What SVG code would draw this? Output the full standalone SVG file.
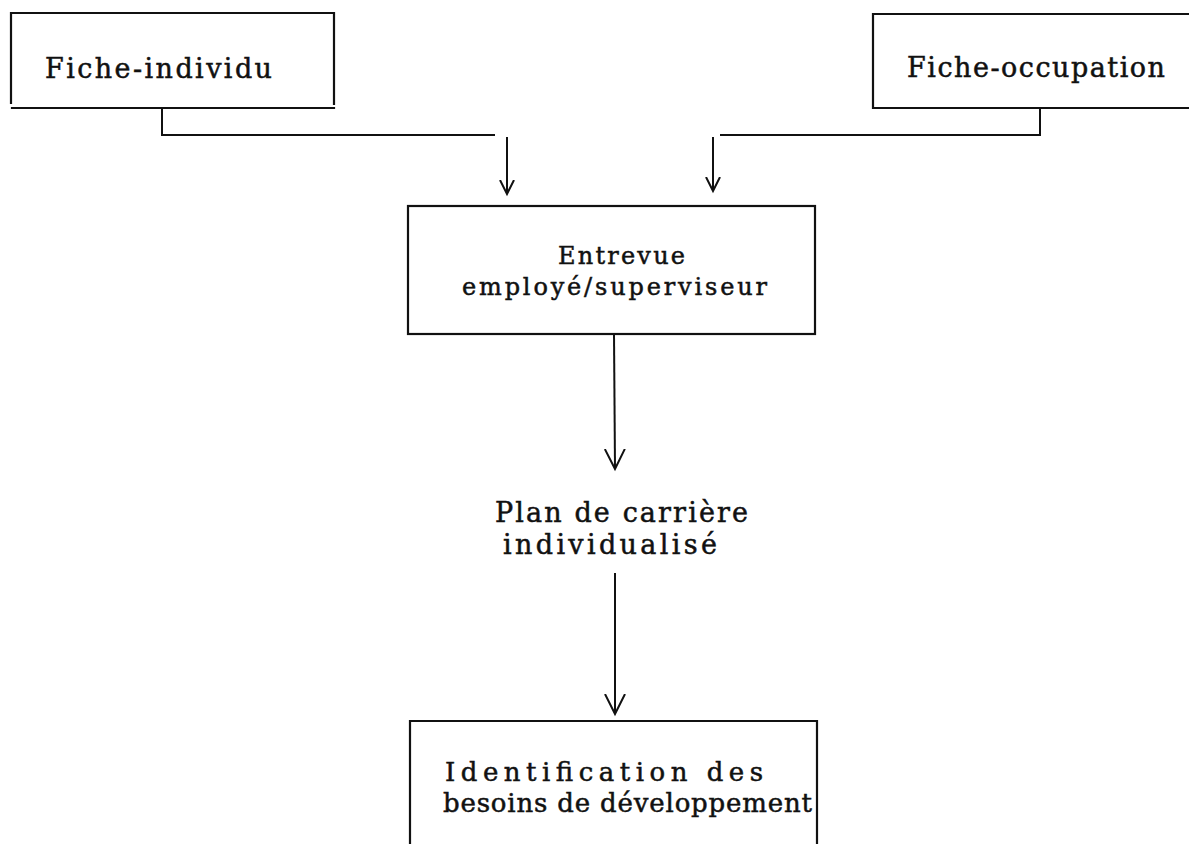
<svg xmlns="http://www.w3.org/2000/svg" width="1189" height="844" viewBox="0 0 1189 844">
<style>
.box{fill:none;stroke:#111;stroke-width:2.2;stroke-linecap:square}
.ln{fill:none;stroke:#111;stroke-width:2}
.t{font-family:"DejaVu Serif","Liberation Serif",serif;fill:#111;stroke:#111;stroke-width:0.5}
</style>
<defs>
<marker id="vs" markerUnits="userSpaceOnUse" markerWidth="20" markerHeight="20" refX="14" refY="7" orient="auto" viewBox="0 0 20 14">
<path d="M0,0 L14,7 L0,14" fill="none" stroke="#111" stroke-width="2"/>
</marker>
<marker id="vl" markerUnits="userSpaceOnUse" markerWidth="24" markerHeight="24" refX="20" refY="10" orient="auto" viewBox="0 0 24 20">
<path d="M0,0 L20,10 L0,20" fill="none" stroke="#111" stroke-width="2"/>
</marker>
</defs>
<rect width="1189" height="844" fill="#fff"/>
<g id="fiche-individu">
<path class="box" d="M11,103 L11,13 L334,13 L334,104 M12,108 L334,108"/>
<text class="t" x="45" y="78" font-size="27" textLength="227" lengthAdjust="spacing">Fiche-individu</text>
</g>
<g id="fiche-occupation">
<path class="box" d="M1189,14 L873,14 L873,108 L1189,108"/>
<text class="t" x="907" y="77" font-size="27" textLength="258" lengthAdjust="spacing">Fiche-occupation</text>
</g>
<g id="entrevue">
<rect class="box" x="408" y="206" width="407" height="128"/>
<text class="t" x="558" y="264" font-size="24" textLength="127" lengthAdjust="spacing">Entrevue</text>
<text class="t" x="462" y="295" font-size="24" textLength="305" lengthAdjust="spacing">employé/superviseur</text>
</g>
<g id="plan">
<text class="t" x="495" y="522" font-size="27" textLength="253" lengthAdjust="spacing">Plan de carrière</text>
<text class="t" x="503" y="554" font-size="27" textLength="214" lengthAdjust="spacing">individualisé</text>
</g>
<g id="identification">
<path class="box" d="M410,844 L410,721 L817,721 L817,844"/>
<text class="t" x="445" y="781" font-size="26" textLength="318" lengthAdjust="spacing">Identification des</text>
<text class="t" x="443" y="812" font-size="26" textLength="369" lengthAdjust="spacing">besoins de développement</text>
</g>
<g id="connectors">
<path class="ln" d="M162,108 L162,135 L495,135"/>
<path class="ln" d="M507,137 L507,194" marker-end="url(#vs)"/>
<path class="ln" d="M1040,108 L1040,135 L720,135"/>
<path class="ln" d="M713,137 L713,191" marker-end="url(#vs)"/>
<path class="ln" d="M614,334 L615,469" marker-end="url(#vl)"/>
<path class="ln" d="M615,573 L615,714" marker-end="url(#vl)"/>
</g>
</svg>
